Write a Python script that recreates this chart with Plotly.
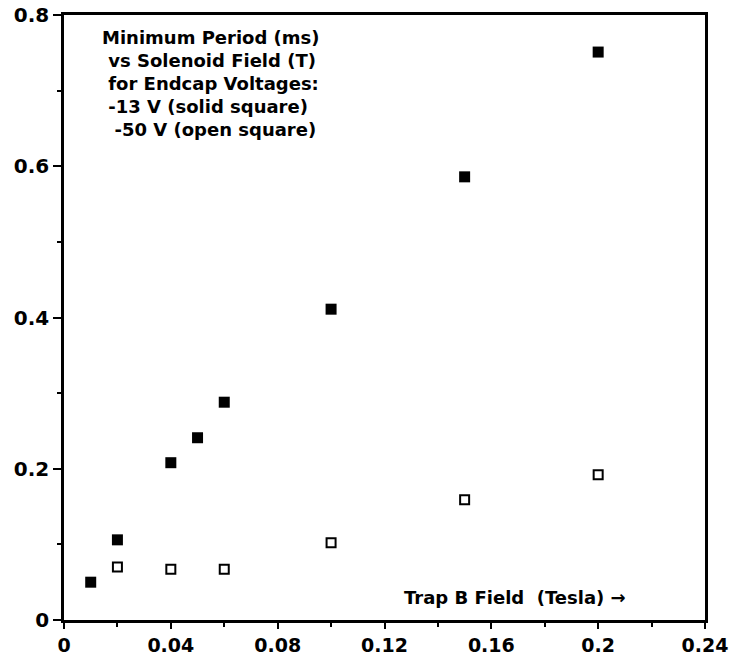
import plotly.graph_objects as go

# Data
field_solid = [0.01, 0.02, 0.04, 0.05, 0.06, 0.10, 0.15, 0.20]
period_solid = [0.050, 0.106, 0.208, 0.241, 0.288, 0.411, 0.586, 0.751]

field_open = [0.02, 0.04, 0.06, 0.10, 0.15, 0.20]
period_open = [0.070, 0.067, 0.067, 0.102, 0.159, 0.192]

x_tickvals = [0, 0.04, 0.08, 0.12, 0.16, 0.20, 0.24]
x_ticktext = ["0", "0.04", "0.08", "0.12", "0.16", "0.2", "0.24"]
y_tickvals = [0, 0.2, 0.4, 0.6, 0.8]
y_ticktext = ["0", "0.2", "0.4", "0.6", "0.8"]

note_lines = [
    "Minimum Period (ms)",
    "&nbsp;vs Solenoid Field (T)",
    "&nbsp;for Endcap Voltages:",
    "&nbsp;-13 V (solid square)",
    "&nbsp;&nbsp;-50 V (open square)",
]
xlabel = "Trap B Field  (Tesla) \u2192"

FONT = "DejaVu Sans"

fig = go.Figure()
fig.add_trace(go.Scatter(
    x=field_solid, y=period_solid, mode="markers",
    marker=dict(symbol="square", size=11, color="black", line=dict(width=0)),
    showlegend=False,
))
fig.add_trace(go.Scatter(
    x=field_open, y=period_open, mode="markers",
    marker=dict(symbol="square-open", size=9, color="black",
                line=dict(width=2, color="black")),
    showlegend=False,
))

axis_common = dict(
    showgrid=False, zeroline=False, showline=True, linecolor="black",
    linewidth=2.5, mirror=True, ticks="outside", tickcolor="black",
    tickwidth=2, automargin=False,
)

fig.update_xaxes(
    range=[0, 0.24], tickvals=x_tickvals, ticktext=x_ticktext, ticklen=6,
    tickfont=dict(family=FONT, size=19, color="black", weight="bold"),
    minor=dict(dtick=0.02, ticks="outside", ticklen=4, tickwidth=2, tickcolor="black"),
    **axis_common,
)
fig.update_yaxes(
    range=[0, 0.8], tickvals=y_tickvals, ticktext=y_ticktext, ticklen=8,
    tickfont=dict(family=FONT, size=20, color="black", weight="bold"),
    minor=dict(dtick=0.1, ticks="outside", ticklen=4, tickwidth=2, tickcolor="black"),
    **axis_common,
)

annos = []
for i, line in enumerate(note_lines):
    annos.append(dict(
        xref="paper", yref="paper", x=0.056, y=0.962 - i * 0.038,
        xanchor="left", yanchor="middle", text=line,
        showarrow=False, align="left",
        font=dict(family=FONT, size=18, color="black", weight="bold"),
    ))
annos.append(dict(
    xref="paper", yref="paper", x=0.88, y=0.038,
    xanchor="right", yanchor="middle", text=xlabel, showarrow=False,
    font=dict(family=FONT, size=18, color="black", weight="bold"),
))

fig.update_layout(
    width=731, height=658,
    margin=dict(l=64, r=26, t=15, b=38),
    paper_bgcolor="white", plot_bgcolor="white",
    annotations=annos,
)

fig.write_html(
    "out.html",
    config={"displayModeBar": False},
    post_script="document.body.style.margin='0';document.body.style.overflow='hidden';",
)
